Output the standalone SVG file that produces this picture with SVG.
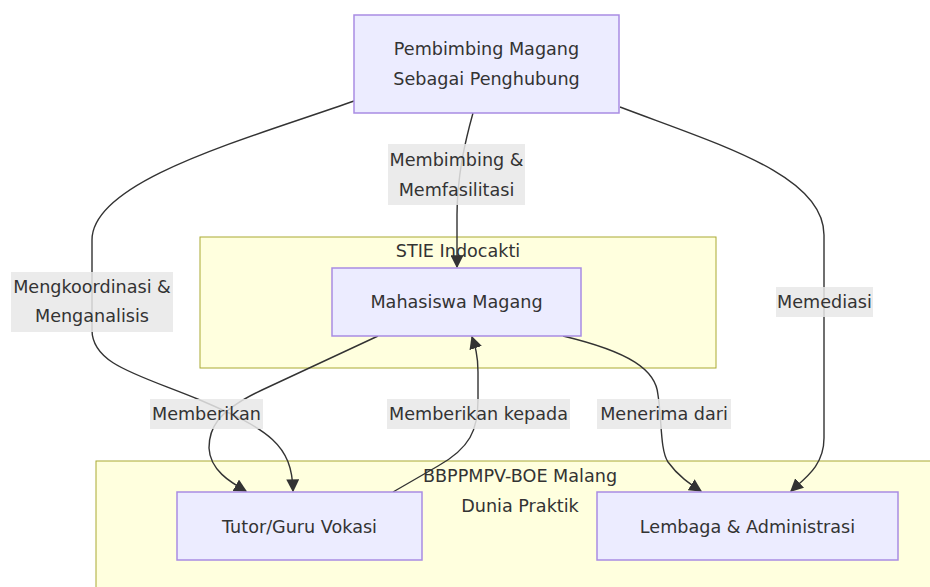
<svg xmlns="http://www.w3.org/2000/svg" width="930" height="587" viewBox="0 0 930 587">
<style>
text{font-family:"DejaVu Sans","Liberation Sans",sans-serif;font-size:17.6px;fill:#333;text-anchor:middle}
.cluster{fill:#ffffde;stroke:#aaaa33;stroke-width:1}
.node rect{fill:#ececff;stroke:#a98ce3;stroke-width:1.5}
.edge{fill:none;stroke:#333;stroke-width:1.4;marker-end:url(#arrow)}
.lbl{fill:#e8e8e8;fill-opacity:0.85}
</style>
<defs>
<marker id="arrow" viewBox="0 0 10 10" refX="9" refY="5" markerWidth="13" markerHeight="13" markerUnits="userSpaceOnUse" orient="auto">
<path d="M0,0 L10,5 L0,10 z" fill="#333"/>
</marker>
</defs>
<rect width="930" height="587" fill="#fff"/>
<g id="cluster-stie">
<rect class="cluster" x="200" y="237" width="516" height="131"/>
<text x="458" y="257">STIE Indocakti</text>
</g>
<g id="cluster-bbppmpv">
<rect class="cluster" x="96" y="461" width="840" height="140"/>
<text x="520" y="482">BBPPMPV-BOE Malang</text>
<text x="520" y="512">Dunia Praktik</text>
</g>
<g id="edges">
<path class="edge" d="M473,113 Q466,138 462,160 Q457,190 457,215 L457,267"/>
<path class="edge" d="M354,101 C250,138 92,180 92,240 L92,330 C92,365 140,375 200,400 C270,430 292,445 293,491"/>
<path class="edge" d="M620,107 C720,145 824,175 824,235 L824,438 C824,466 805,478 791,491"/>
<path class="edge" d="M378,336 L262,390 C215,412 209,430 209,448 C210,470 230,482 246,491"/>
<path class="edge" d="M393,492 L438,466 C470,448 478,430 478,400 L478,372 C478,355 475,346 472,337"/>
<path class="edge" d="M563,336 C630,352 656,370 658,395 C662,420 660,450 668,462 C678,476 690,484 701,491"/>
</g>
<g id="edge-labels">
<rect class="lbl" x="388" y="144" width="137" height="61"/>
<text x="456.5" y="166">Membimbing &amp;</text>
<text x="456.5" y="196">Memfasilitasi</text>
<rect class="lbl" x="11" y="272" width="162" height="60"/>
<text x="92" y="293">Mengkoordinasi &amp;</text>
<text x="92" y="322">Menganalisis</text>
<rect class="lbl" x="776" y="287" width="97" height="30"/>
<text x="824.5" y="308">Memediasi</text>
<rect class="lbl" x="150" y="399" width="113" height="30"/>
<text x="206.5" y="420">Memberikan</text>
<rect class="lbl" x="387" y="399" width="183" height="30"/>
<text x="478.5" y="420">Memberikan kepada</text>
<rect class="lbl" x="597" y="399" width="134" height="30"/>
<text x="664" y="420">Menerima dari</text>
</g>
<g id="node-pembimbing" class="node">
<rect x="354" y="15" width="265" height="98"/>
<text x="486.5" y="55">Pembimbing Magang</text>
<text x="486.5" y="85">Sebagai Penghubung</text>
</g>
<g id="node-mahasiswa" class="node">
<rect x="332" y="268" width="249" height="68"/>
<text x="456.5" y="308">Mahasiswa Magang</text>
</g>
<g id="node-tutor" class="node">
<rect x="177" y="492" width="245" height="68"/>
<text x="299.5" y="533">Tutor/Guru Vokasi</text>
</g>
<g id="node-lembaga" class="node">
<rect x="597" y="492" width="301" height="68"/>
<text x="747.5" y="533">Lembaga &amp; Administrasi</text>
</g>
</svg>
